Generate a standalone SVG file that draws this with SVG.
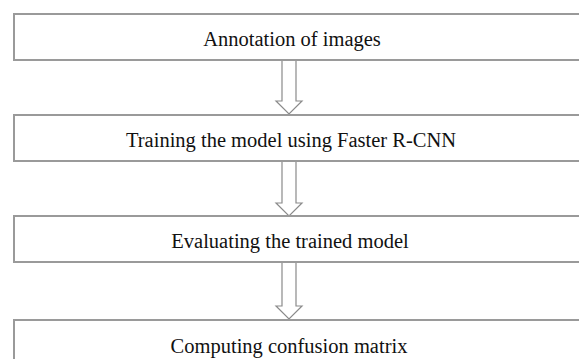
<svg xmlns="http://www.w3.org/2000/svg" width="579" height="359" viewBox="0 0 579 359">
<style>
.box{fill:#fff;stroke:#9a9a9a;stroke-width:2}
.lbl{font-family:"Liberation Serif","Times New Roman",serif;font-size:20.5px;fill:#111;text-anchor:middle}
.arr{fill:#fff;stroke:#8a8a8a;stroke-width:1.2}
</style>
<rect width="579" height="359" fill="#fff"/>
<g id="connectors">
<path class="arr" d="M282 60 V101 H276 L289 114 L302 101 H296 V60"/>
<path class="arr" d="M282 161 V203 H276 L289 216 L302 203 H296 V161"/>
<path class="arr" d="M282 262 V306 H276 L289 319 L302 306 H296 V262"/>
</g>
<g id="n1"><rect class="box" x="14" y="14" width="580" height="46"/><text class="lbl" x="292" y="46">Annotation of images</text></g>
<g id="n2"><rect class="box" x="14" y="115" width="580" height="46"/><text class="lbl" x="291" y="147">Training the model using Faster R-CNN</text></g>
<g id="n3"><rect class="box" x="14" y="216" width="580" height="46"/><text class="lbl" x="290" y="248">Evaluating the trained model</text></g>
<g id="n4"><rect class="box" x="14" y="320" width="580" height="50"/><text class="lbl" x="289" y="353">Computing confusion matrix</text></g>
</svg>
